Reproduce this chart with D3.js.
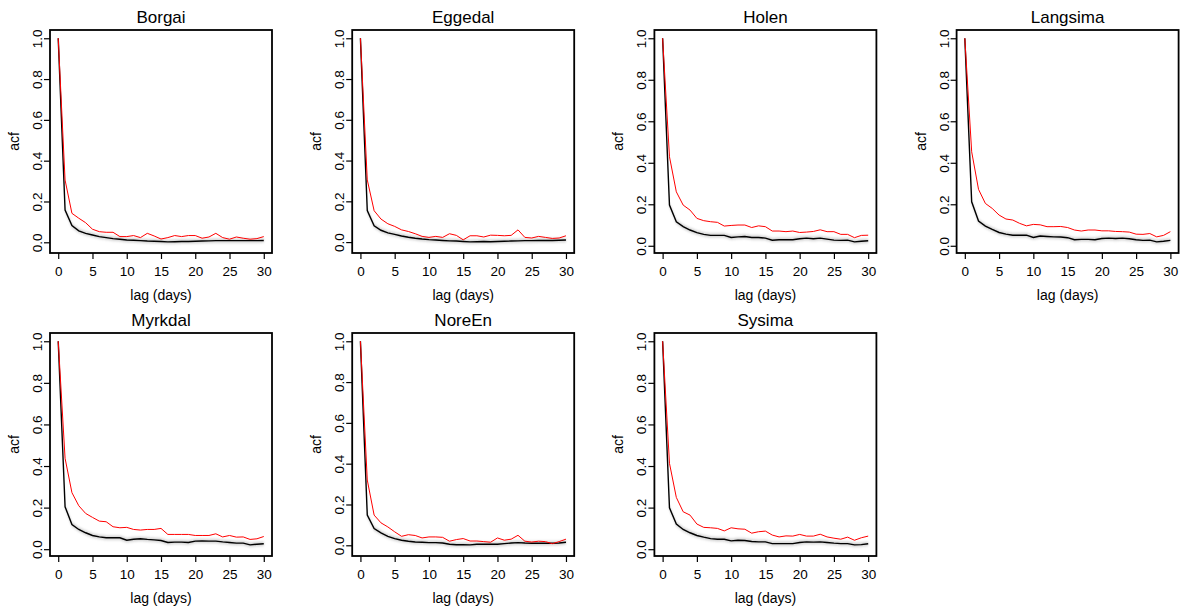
<!DOCTYPE html>
<html>
<head>
<meta charset="utf-8">
<script src="https://cdn.jsdelivr.net/npm/d3@7"></script>
<style>
  body { margin: 0; background: #fff; }
  svg { font-family: "Liberation Sans", Arial, Helvetica, sans-serif; }
</style>
</head>
<body>
<div id="chart"></div>
<script>
// stations et autocorrelations (lag 0..30)
const sites = ["Borgai", "Eggedal", "Holen", "Langsima", "Myrkdal", "NoreEn", "Sysima"];
const lags = d3.range(0, 31);
const xTicks = [0, 5, 10, 15, 20, 25, 30];
const yTicks = [0, 0.2, 0.4, 0.6, 0.8, 1.0];

// acf observee (rouge)
const acfObs = [
  [1.0, 0.305, 0.142, 0.118, 0.096, 0.064, 0.052, 0.049, 0.049, 0.028, 0.028, 0.033, 0.023, 0.044, 0.031, 0.016, 0.023, 0.033, 0.028, 0.033, 0.033, 0.020, 0.026, 0.044, 0.023, 0.015, 0.026, 0.020, 0.015, 0.018, 0.028],
  [1.0, 0.305, 0.154, 0.113, 0.090, 0.077, 0.060, 0.052, 0.041, 0.028, 0.023, 0.028, 0.023, 0.041, 0.033, 0.011, 0.031, 0.031, 0.025, 0.034, 0.033, 0.031, 0.033, 0.060, 0.023, 0.020, 0.028, 0.023, 0.018, 0.020, 0.031],
  [1.0, 0.429, 0.260, 0.196, 0.172, 0.132, 0.121, 0.116, 0.113, 0.095, 0.098, 0.100, 0.100, 0.088, 0.096, 0.092, 0.071, 0.071, 0.068, 0.071, 0.064, 0.066, 0.069, 0.077, 0.068, 0.068, 0.055, 0.055, 0.039, 0.050, 0.051],
  [1.0, 0.453, 0.272, 0.204, 0.180, 0.148, 0.129, 0.124, 0.108, 0.096, 0.103, 0.101, 0.092, 0.092, 0.093, 0.088, 0.076, 0.071, 0.076, 0.076, 0.072, 0.072, 0.069, 0.068, 0.066, 0.056, 0.055, 0.059, 0.043, 0.050, 0.068],
  [1.0, 0.437, 0.272, 0.209, 0.172, 0.153, 0.135, 0.132, 0.108, 0.103, 0.105, 0.095, 0.092, 0.095, 0.095, 0.100, 0.071, 0.071, 0.071, 0.071, 0.066, 0.066, 0.066, 0.074, 0.059, 0.066, 0.058, 0.059, 0.047, 0.050, 0.061],
  [1.0, 0.320, 0.148, 0.110, 0.090, 0.066, 0.044, 0.052, 0.048, 0.036, 0.041, 0.041, 0.039, 0.020, 0.028, 0.033, 0.021, 0.021, 0.018, 0.015, 0.036, 0.025, 0.030, 0.049, 0.020, 0.016, 0.020, 0.018, 0.008, 0.018, 0.030],
  [1.0, 0.413, 0.249, 0.180, 0.164, 0.121, 0.105, 0.103, 0.100, 0.088, 0.103, 0.098, 0.096, 0.077, 0.084, 0.087, 0.068, 0.059, 0.064, 0.063, 0.071, 0.063, 0.063, 0.072, 0.059, 0.053, 0.048, 0.058, 0.043, 0.055, 0.063]
];

// acf simulee, moyenne (noir)
const acfSim = [
  [1.0, 0.158, 0.082, 0.056, 0.044, 0.036, 0.028, 0.023, 0.018, 0.015, 0.011, 0.010, 0.008, 0.006, 0.005, 0.004, 0.002, 0.003, 0.004, 0.004, 0.005, 0.006, 0.007, 0.008, 0.008, 0.008, 0.008, 0.008, 0.008, 0.008, 0.009],
  [1.0, 0.155, 0.080, 0.058, 0.045, 0.038, 0.030, 0.024, 0.019, 0.015, 0.012, 0.010, 0.008, 0.006, 0.005, 0.003, 0.001, 0.002, 0.003, 0.002, 0.003, 0.004, 0.005, 0.006, 0.007, 0.007, 0.008, 0.008, 0.008, 0.009, 0.010],
  [1.0, 0.196, 0.116, 0.092, 0.076, 0.063, 0.055, 0.050, 0.050, 0.050, 0.040, 0.043, 0.045, 0.040, 0.040, 0.037, 0.027, 0.029, 0.029, 0.029, 0.034, 0.037, 0.034, 0.037, 0.032, 0.027, 0.026, 0.027, 0.019, 0.022, 0.024],
  [1.0, 0.212, 0.119, 0.095, 0.079, 0.064, 0.056, 0.051, 0.051, 0.051, 0.040, 0.047, 0.045, 0.043, 0.042, 0.039, 0.029, 0.031, 0.031, 0.029, 0.035, 0.037, 0.035, 0.037, 0.034, 0.029, 0.026, 0.027, 0.019, 0.022, 0.026],
  [1.0, 0.204, 0.119, 0.095, 0.079, 0.066, 0.059, 0.055, 0.055, 0.055, 0.043, 0.048, 0.050, 0.047, 0.045, 0.042, 0.032, 0.034, 0.034, 0.032, 0.039, 0.040, 0.039, 0.039, 0.035, 0.032, 0.029, 0.029, 0.021, 0.024, 0.026],
  [1.0, 0.148, 0.082, 0.061, 0.044, 0.033, 0.025, 0.020, 0.016, 0.015, 0.013, 0.013, 0.011, 0.005, 0.003, 0.003, 0.002, 0.005, 0.005, 0.005, 0.005, 0.008, 0.011, 0.013, 0.011, 0.010, 0.010, 0.010, 0.010, 0.011, 0.015],
  [1.0, 0.199, 0.121, 0.095, 0.079, 0.066, 0.058, 0.051, 0.048, 0.048, 0.040, 0.043, 0.042, 0.037, 0.035, 0.035, 0.027, 0.027, 0.027, 0.027, 0.032, 0.035, 0.034, 0.035, 0.032, 0.029, 0.027, 0.027, 0.021, 0.022, 0.026]
];

// demi-largeur de l'enveloppe grise des simulations
const bandHalf = [0.014, 0.014, 0.014, 0.014, 0.014, 0.014, 0.014];

// mise en page (4 colonnes, 2 lignes)
const width = 1188, height = 612;
const boxW = 222, boxH = 223;
const left0 = 50, top0 = 30, dx = 302.2, dy = 303;

const svg = d3.select("#chart").append("svg")
  .attr("width", width).attr("height", height);

// flou pour l'enveloppe
svg.append("defs").append("filter").attr("id", "blur")
  .attr("x", "-10%").attr("y", "-10%").attr("width", "120%").attr("height", "120%")
  .append("feGaussianBlur").attr("stdDeviation", 1.2);

sites.forEach(function (name, k) {
  const col = k % 4, row = Math.floor(k / 4);
  const g = svg.append("g")
    .attr("transform", "translate(" + (left0 + col * dx) + "," + (top0 + row * dy) + ")");

  const obs = acfObs[k], sim = acfSim[k], w = bandHalf[k];

  // limites a la R : etendue des donnees + 4%
  const lo = Math.min(d3.min(sim) - w, d3.min(obs));
  const hi = 1.0;
  const padY = (hi - lo) * 0.04;
  const x = d3.scaleLinear().domain([-1.2, 31.2]).range([0, boxW]);
  const y = d3.scaleLinear().domain([lo - padY, hi + padY]).range([boxH, 0]);

  // enveloppe grise (plusieurs couches)
  [1, 0.66, 0.33].forEach(function (f) {
    const area = d3.area()
      .x(function (d, i) { return x(lags[i]); })
      .y0(function (d) { return y(d - w * f); })
      .y1(function (d) { return y(d + w * f); });
    g.append("path")
      .datum(sim)
      .attr("d", area)
      .attr("fill", "#000")
      .attr("fill-opacity", 0.07)
      .attr("filter", "url(#blur)");
  });

  const line = d3.line()
    .x(function (d, i) { return x(lags[i]); })
    .y(function (d) { return y(d); });

  g.append("path").datum(sim).attr("d", line)
    .attr("fill", "none").attr("stroke", "#000").attr("stroke-width", 1.4);
  g.append("path").datum(obs).attr("d", line)
    .attr("fill", "none").attr("stroke", "#ff0000").attr("stroke-width", 1);

  // cadre
  g.append("rect").attr("width", boxW).attr("height", boxH)
    .attr("fill", "none").attr("stroke", "#000").attr("stroke-width", 1.8);

  // axe x
  const xAxis = g.append("g").attr("transform", "translate(0," + boxH + ")")
    .call(d3.axisBottom(x).tickValues(xTicks).tickSize(6).tickPadding(7).tickFormat(d3.format("d")));
  xAxis.select(".domain").remove();
  xAxis.selectAll(".tick line").attr("stroke-width", 1.2);
  xAxis.selectAll("text").attr("font-size", 13.5).attr("fill", "#000")
    .attr("font-family", "Liberation Sans, Arial, sans-serif");

  // axe y, etiquettes verticales
  const yAxis = g.append("g")
    .call(d3.axisLeft(y).tickValues(yTicks).tickSize(6).tickFormat(d3.format(".1f")));
  yAxis.select(".domain").remove();
  yAxis.selectAll(".tick line").attr("stroke-width", 1.2);
  yAxis.selectAll("text")
    .attr("font-size", 13.5).attr("fill", "#000")
    .attr("font-family", "Liberation Sans, Arial, sans-serif")
    .attr("x", null).attr("dy", null)
    .attr("text-anchor", "middle")
    .attr("transform", "translate(-8,0) rotate(-90)")
    .attr("y", 0);

  // titres
  g.append("text").attr("x", boxW / 2).attr("y", -7)
    .attr("text-anchor", "middle").attr("font-size", 17).text(name);
  g.append("text").attr("x", boxW / 2).attr("y", boxH + 47)
    .attr("text-anchor", "middle").attr("font-size", 14).text("lag (days)");
  g.append("text")
    .attr("transform", "translate(-31," + (boxH / 2) + ") rotate(-90)")
    .attr("text-anchor", "middle").attr("font-size", 14).text("acf");
});
</script>
</body>
</html>
